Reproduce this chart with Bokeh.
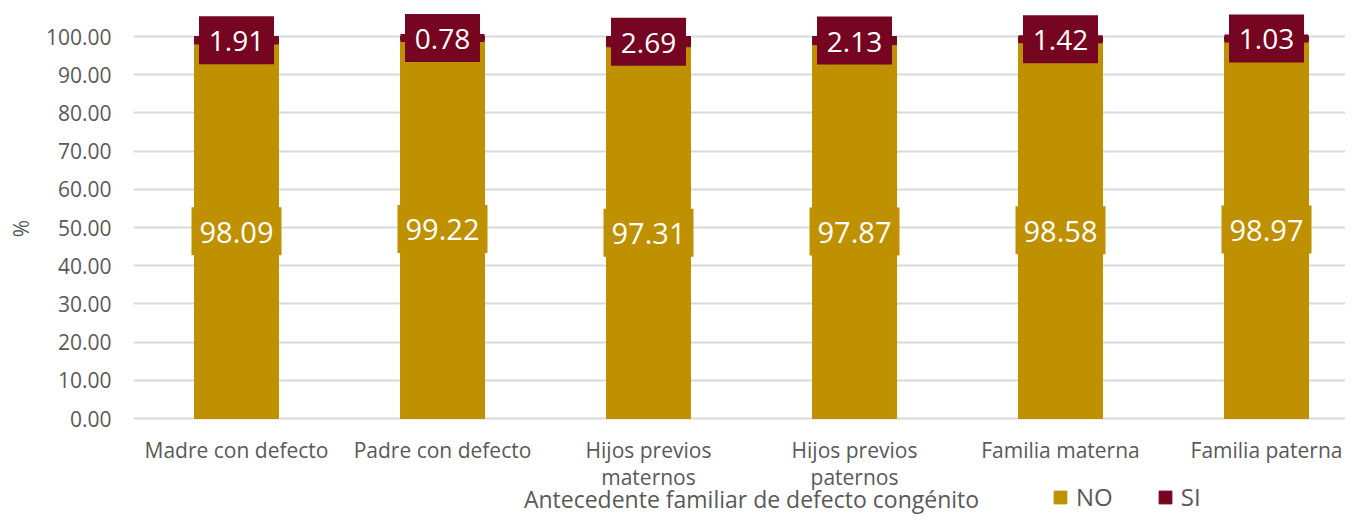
from bokeh.plotting import figure
from bokeh.models import (Range1d, FixedTicker, PrintfTickFormatter, ColumnDataSource,
                          Legend, LegendItem)
from bokeh.core.properties import value
from bokeh.embed import file_html
from bokeh.resources import INLINE

categories = ["Madre con defecto", "Padre con defecto", "Hijos previos\nmaternos",
              "Hijos previos\npaternos", "Familia materna", "Familia paterna"]
no_vals = [98.09, 99.22, 97.31, 97.87, 98.58, 98.97]
si_vals = [1.91, 0.78, 2.69, 2.13, 1.42, 1.03]
y_ticks = [0, 10, 20, 30, 40, 50, 60, 70, 80, 90, 100]
x_title = "Antecedente familiar de defecto congénito"
y_title = "%"
series_names = ["NO", "SI"]

GOLD = "#BF9000"
WINE = "#750521"
TXT = "#595959"
FONT = "Open Sans"

PX = 3.82           # pixels per percentage point
LEFT = 133
TOP = 13
W, H = 1345, 514
FRAME_W = W - LEFT
ZERO_Y = 418        # canvas y of the 0 line
BAND = 206

xs = [i + 0.5 for i in range(len(categories))]
no_mid = [v / 2 for v in no_vals]
si_mid = [n + s / 2 for n, s in zip(no_vals, si_vals)]

src = ColumnDataSource(dict(x=xs, no_mid=no_mid, si_mid=si_mid,
                            no_txt=[f"{v:.2f}" for v in no_vals],
                            si_txt=[f"{v:.2f}" for v in si_vals],
                            no_top=no_vals, si_top=[n + s for n, s in zip(no_vals, si_vals)]))
cat_src = ColumnDataSource(dict(x=xs, label=categories))

p = figure(width=W, height=H, output_backend="svg", toolbar_location=None,
           x_range=Range1d(0, FRAME_W / BAND),
           y_range=Range1d(-(H - ZERO_Y) / PX, (ZERO_Y - TOP) / PX),
           min_border_left=LEFT, min_border_right=0, min_border_top=TOP, min_border_bottom=0)
p.outline_line_color = None
p.background_fill_color = "white"

bw = 84 / BAND
r_no = p.vbar(x="x", bottom=0, top="no_top", width=bw, color=GOLD, source=src)
r_si = p.vbar(x="x", bottom="no_top", top="si_top", width=bw, color=WINE, source=src)

# data-label boxes
p.rect(x="x", y="no_mid", width=90, height=48, width_units="screen", height_units="screen",
       fill_color=GOLD, line_color=None, source=src)
p.rect(x="x", y="si_mid", width=bw, height=8, height_units="screen",
       fill_color=WINE, line_color=None, source=src)
p.rect(x="x", y="si_mid", width=75, height=48, width_units="screen", height_units="screen",
       fill_color=WINE, line_color=None, source=src)
p.text(x="x", y="no_mid", text="no_txt", text_align="center", text_baseline="middle",
       text_font=value(FONT), text_font_size="29px", text_color="white", source=src,
       y_offset=1)
p.text(x="x", y="si_mid", text="si_txt", text_align="center", text_baseline="middle",
       text_font=value(FONT), text_font_size="28px", text_color="white", source=src,
       y_offset=1)

# category labels (drawn below the 0 line inside the extended frame)
p.text(x="x", y=-17.5 / PX, text="label", text_align="center", text_baseline="top",
       text_font=value(FONT), text_font_size="21px", text_color=TXT,
       text_line_height=0.98, source=cat_src)
# x axis title
p.text(x=[(751 - LEFT) / BAND], y=[-(498 - ZERO_Y) / PX], text=[x_title], text_align="center",
       text_baseline="middle", text_font=value(FONT), text_font_size="23px",
       text_color=TXT)

p.xaxis.visible = False
p.xgrid.grid_line_color = None

ya = p.yaxis[0]
ya.ticker = FixedTicker(ticks=y_ticks)
ya.formatter = PrintfTickFormatter(format="%.2f")
ya.axis_line_color = None
ya.major_tick_line_color = None
ya.minor_tick_line_color = None
ya.major_tick_out = 0
ya.major_tick_in = 0
ya.minor_tick_out = 0
ya.major_label_text_font = FONT
ya.major_label_text_font_size = "21px"
ya.major_label_text_color = TXT
ya.major_label_standoff = 22
# leading no-break spaces lift the "%" to the middle of the 0-100 scale
ya.axis_label = "\u00a0" * 13 + y_title
ya.axis_label_text_font = FONT
ya.axis_label_text_font_size = "21px"
ya.axis_label_text_font_style = "normal"
ya.axis_label_text_color = TXT
ya.axis_label_standoff = 8

p.ygrid.grid_line_color = "#D9D9D9"
p.ygrid.grid_line_width = 2
p.ygrid.ticker = FixedTicker(ticks=y_ticks)
p.ygrid.level = "underlay"

legend = Legend(items=[LegendItem(label=series_names[0], renderers=[r_no]),
                       LegendItem(label=series_names[1], renderers=[r_si])],
                orientation="horizontal", location=(919, 1),
                glyph_width=16, glyph_height=16, label_standoff=8, spacing=44,
                padding=0, margin=0, border_line_color=None, background_fill_alpha=0,
                label_text_font=FONT, label_text_font_size="24px", label_text_color=TXT)
p.add_layout(legend, "center")

open("out.html", "w").write(file_html(p, INLINE))
